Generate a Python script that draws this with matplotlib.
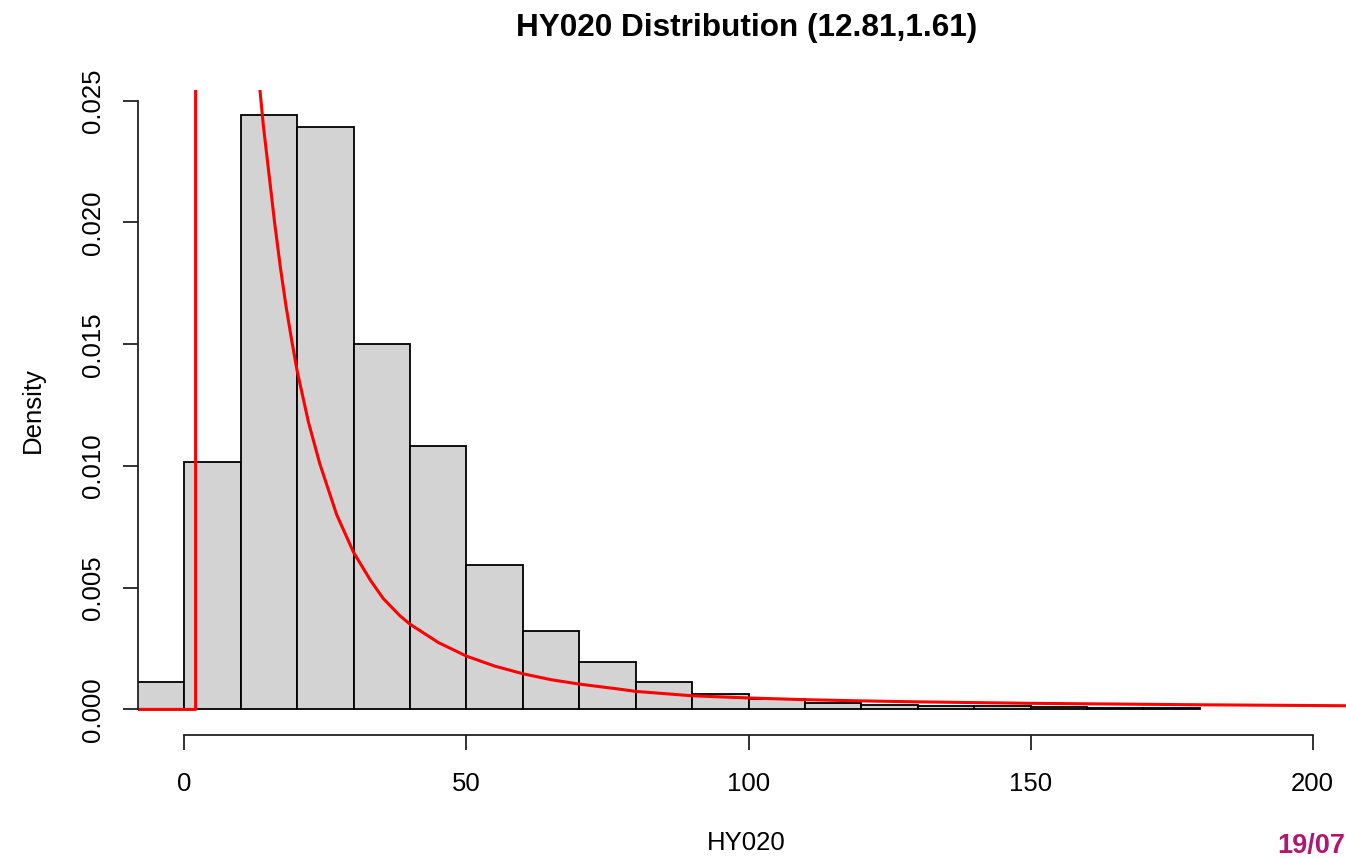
import numpy as np
import matplotlib
matplotlib.use('Agg')
import matplotlib.pyplot as plt

plt.rcParams['font.family'] = ['Liberation Sans', 'DejaVu Sans']

# histogram of HY020 (density scale), 10-wide bins
bin_edges = [-10, 0, 10, 20, 30, 40, 50, 60, 70, 80, 90, 100, 110, 120,
             130, 140, 150, 160, 170, 180]
density = [0.00113, 0.01017, 0.02441, 0.02392, 0.01502, 0.01083, 0.00592,
           0.00320, 0.00194, 0.00112, 0.00064, 0.00043, 0.00028, 0.00020,
           0.00014, 0.00012, 0.00008, 0.00007, 0.00006]

# fitted density curve (red)
curve_x = [-9.0, 2.0, 2.0, 13.4, 14.0, 15.0, 16.0, 17.0, 18.0, 19.0, 20.0,
           22.0, 24.0, 27.0, 30.0, 33.0, 35.27, 38.2, 40.0, 45.0, 50.0,
           55.0, 60.1, 65.0, 70.0, 77.2, 80.0, 90.0, 100.0, 110.0, 120.0,
           130.0, 150.0, 180.0, 206.0]
curve_y = [0.0, 0.0, 0.0300, 0.02545, 0.02400, 0.02200, 0.02000, 0.01820,
           0.01660, 0.01520, 0.01390, 0.01180, 0.01010, 0.00800, 0.00645,
           0.00530, 0.00455, 0.00385, 0.00350, 0.00275, 0.00219, 0.00178,
           0.00146, 0.00122, 0.00104, 0.00083, 0.00074, 0.00056, 0.00047,
           0.00040, 0.00035, 0.00031, 0.00025, 0.00019, 0.00015]

x_ticks = [0, 50, 100, 150, 200]
y_ticks = [0.000, 0.005, 0.010, 0.015, 0.020, 0.025]

W, H = 1346, 858
fig = plt.figure(figsize=(W / 100, H / 100), dpi=100)
ax = fig.add_axes([138 / W, (H - 734) / H, (W - 138) / W, (734 - 90) / H])

lefts = np.array(bin_edges[:-1])
widths = np.diff(bin_edges)
ax.bar(lefts, density, width=widths, align='edge', color='#d3d3d3',
       edgecolor='black', linewidth=1.3)
ax.plot(curve_x, curve_y, color='red', linewidth=2.2, solid_joinstyle='round')

ax.set_xlim(-8.21, 205.9)
ax.set_ylim(-0.00101, 0.02544)

for s in ['top', 'right']:
    ax.spines[s].set_visible(False)
ax.spines['left'].set_bounds(0, 0.025)
ax.spines['bottom'].set_bounds(0, 200)
ax.spines['bottom'].set_position(('outward', 1))
for s in ['left', 'bottom']:
    ax.spines[s].set_linewidth(1.3)
    ax.spines[s].set_color('#222222')

ax.set_xticks(x_ticks)
ax.set_xticklabels([str(t) for t in x_ticks])
ax.set_yticks(y_ticks)
ax.set_yticklabels(['%.3f' % t for t in y_ticks])
ax.tick_params(axis='x', length=10.5, width=1.3, pad=16, labelsize=18.5,
               color='#222222')
ax.tick_params(axis='y', length=10.5, width=1.3, pad=13, labelsize=18.5,
               color='#222222', labelrotation=90)
for lab in ax.get_yticklabels():
    lab.set_va('center')

fig.text(747 / W, 1 - 28 / H, 'HY020 Distribution (12.81,1.61)',
         ha='center', va='center', fontsize=22.7, fontweight='bold')
fig.text(746 / W, 1 - 843 / H, 'HY020', ha='center', va='center',
         fontsize=18.5)
fig.text(33 / W, 1 - 410 / H, 'Density', ha='center', va='center',
         rotation=90, fontsize=18.5)
fig.text(1345 / W, 1 - 846 / H, '19/07', ha='right', va='center',
         fontsize=19.5, fontweight='bold', color='#b0186f')

fig.savefig('out.png', dpi=100)
